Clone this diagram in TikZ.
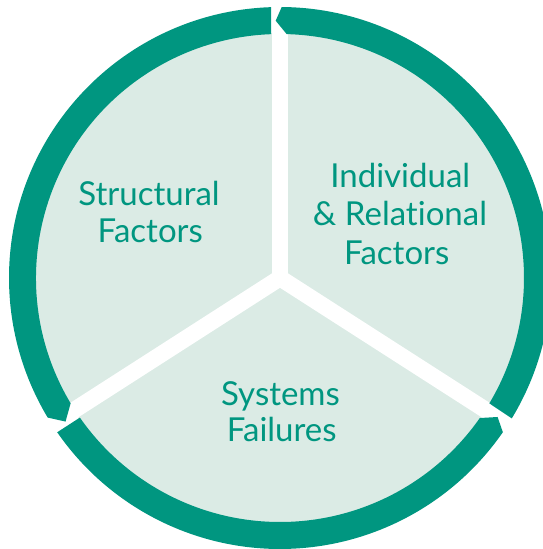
\documentclass[tikz,border=0pt]{standalone}
\usepackage{fontspec}
\setmainfont{Lato}[Ligatures=NoCommon]
\definecolor{ringteal}{RGB}{0,150,128}
\definecolor{mint}{RGB}{219,235,229}
\begin{document}
\begin{tikzpicture}[x=1pt,y=1pt,
  ring/.style={fill=ringteal},
  sepband/.style={draw=white,line width=16.5pt},
  lbl/.style={text=ringteal,font=\fontsize{33}{38}\selectfont,anchor=base,inner sep=0pt}]
\useasboundingbox (0,0) rectangle (543,-549);
\coordinate (C) at (280,-278);
\fill[mint] (C) circle[radius=245pt];
\begin{scope}[shift={(C)}]
  \coordinate (O) at (0,0);
  \coordinate (b1) at (90:250pt);
  \coordinate (b2) at (212.7:250pt);
  \coordinate (b3) at (-32.7:250pt);
  \draw[sepband] (O) -- (b1);
  \draw[sepband] (O) -- (b2);
  \draw[sepband] (O) -- (b3);
  \fill[white] (O) circle[radius=8.25pt];
  % right segment
  \fill[ring] (-30.92:244pt) -- (-31.2:271pt)
    arc[start angle=-31.2,end angle=89.64,radius=271pt]
    -- (90.96:257.3pt) -- (88.43:244pt)
    arc[start angle=88.43,end angle=-30.92,radius=244pt] -- cycle;
  % left segment
  \fill[ring] (92.1:244pt) -- (91.9:271pt)
    arc[start angle=91.9,end angle=211.0,radius=271pt]
    -- (213.8:258.1pt) -- (210.9:244pt)
    arc[start angle=210.9,end angle=92.1,radius=244pt] -- cycle;
  % bottom segment
  \fill[ring] (214.9:244pt) -- (214.7:271pt)
    arc[start angle=214.7,end angle=325.32,radius=271pt]
    -- (327.43:258.2pt) -- (324.98:244pt)
    arc[start angle=324.98,end angle=214.9,radius=244pt] -- cycle;
\end{scope}
\node[lbl] (s1) at (149,-205.8) {Structural};
\node[lbl] (s2) at (150.3,-242.7) {Factors};
\node[lbl] (i1) at (400.3,-187) {Individual};
\node[lbl] (i2) at (400,-225.5) {\& Relational};
\node[lbl] (i3) at (396.8,-264) {Factors};
\node[lbl] (y1) at (280.5,-405) {Systems};
\node[lbl] (y2) at (281.7,-441) {Failures};
\end{tikzpicture}
\end{document}
